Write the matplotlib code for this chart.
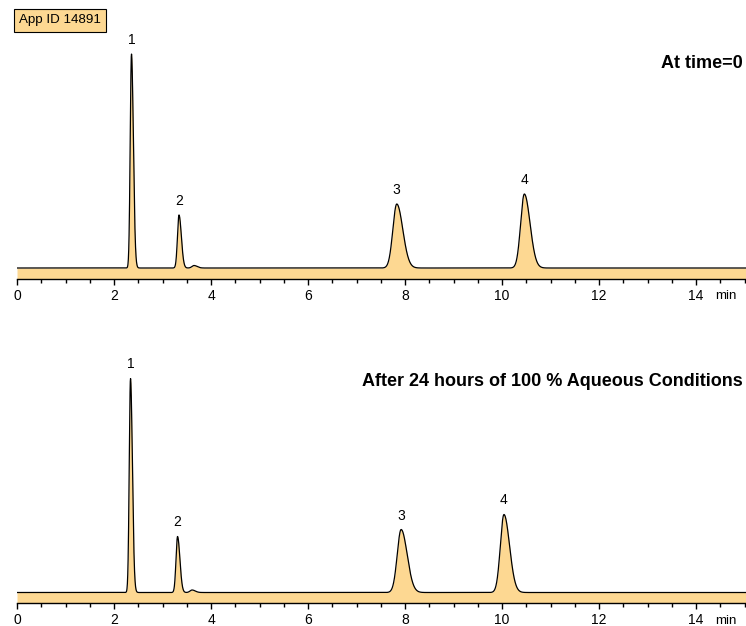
import numpy as np
import matplotlib
matplotlib.use("Agg")
import matplotlib.pyplot as plt
from matplotlib.ticker import MultipleLocator

plt.rcParams['font.family'] = ['Liberation Sans', 'DejaVu Sans']

# Peak tables (time in min, height in arbitrary units)
peak_labels = ["1", "2", "", "3", "4"]
top_times = [2.36, 3.34, 3.65, 7.83, 10.46]
top_heights = [214, 53, 2.5, 64, 74]
top_widths = [0.03, 0.037, 0.05, 0.095, 0.09]

bot_times = [2.34, 3.31, 3.61, 7.92, 10.04]
bot_heights = [214, 56, 2.5, 63, 78]
bot_widths = [0.03, 0.037, 0.05, 0.095, 0.088]

top_title = "At time=0"
bot_title = "After 24 hours of 100 % Aqueous Conditions"
x_ticks = [0, 2, 4, 6, 8, 10, 12, 14]

FILL = "#FDD892"


def trace(t, times, heights, widths):
    y = np.zeros_like(t)
    for rt, h, w in zip(times, heights, widths):
        sig = np.where(t < rt, w * 0.85, w * 1.3)
        y += h * np.exp(-0.5 * ((t - rt) / sig) ** 2)
    return y


fig = plt.figure(figsize=(7.46, 6.26), dpi=100)
t = np.linspace(0, 15.1, 6000)

W, H = 746, 626


def make_axes(spine_px, top_px):
    return fig.add_axes([17 / W, 1 - spine_px / H, 1 - 17 / W,
                         (spine_px - top_px) / H])


specs = [
    (278.5, 40, 63, top_times, top_heights, top_widths, top_title),
    (603.0, 365, 382, bot_times, bot_heights, bot_widths, bot_title),
]

for spine_px, top_px, title_px, times, heights, widths, title in specs:
    ax = make_axes(spine_px, top_px)
    y = trace(t, times, heights, widths)
    base = -10.5
    ax.fill_between(t, base, y, color=FILL, lw=0)
    ax.plot(t, y, color="black", lw=0.9)
    ax.set_xlim(0, 15.03)
    ax.set_ylim(base, base + (spine_px - top_px))
    for s in ["top", "left", "right"]:
        ax.spines[s].set_visible(False)
    ax.spines["bottom"].set_linewidth(1.0)
    ax.set_yticks([])
    ax.set_xticks(x_ticks)
    ax.xaxis.set_minor_locator(MultipleLocator(0.5))
    ax.tick_params(axis="x", which="major", length=4.5, width=1.0,
                   labelsize=10, pad=2.8)
    ax.tick_params(axis="x", which="minor", length=2.8, width=1.0)
    for lab, rt, h in zip(peak_labels, times, heights):
        if lab:
            ax.text(rt, h + 7, lab, ha="center", va="bottom", fontsize=10)
    ax.annotate("min", xy=(14.4, 0), xycoords=("data", "axes fraction"),
                xytext=(0, -8.3), textcoords="offset points",
                ha="left", va="top", fontsize=9.5)
    ax.text(0.9955, (spine_px - title_px) / (spine_px - top_px), title,
            transform=ax.transAxes, ha="right", va="center",
            fontsize=13.0, fontweight="bold")

fig.text(19 / W, 1 - 20.5 / H, "App ID 14891", ha="left", va="center",
         fontsize=9.6,
         bbox=dict(boxstyle="square,pad=0.38", fc=FILL, ec="black", lw=0.8))

fig.savefig("out.png", dpi=100)
